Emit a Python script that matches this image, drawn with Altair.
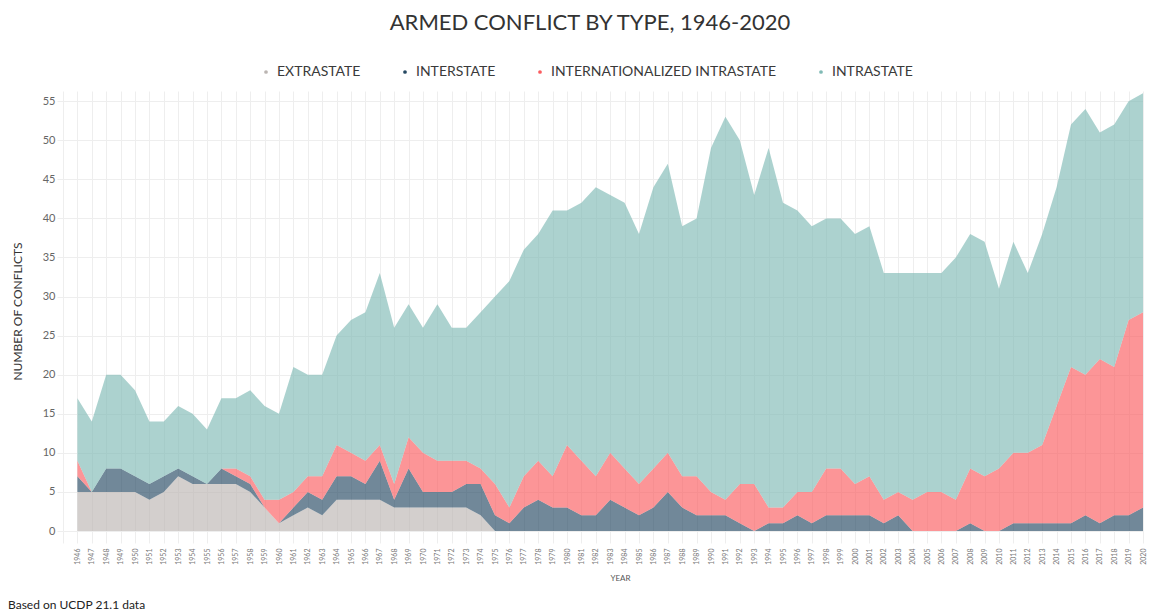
import altair as alt
import pandas as pd

years = list(range(1946, 2021))

type_names = ["EXTRASTATE", "INTERSTATE", "INTERNATIONALIZED INTRASTATE", "INTRASTATE"]
type_colors = ["#bbb5b2", "#254862", "#fb5c5f", "#80bab5"]

extrastate = [5, 5, 5, 5, 5, 4, 5, 7, 6, 6, 6, 6, 5, 3, 1, 2, 3, 2, 4, 4,
              4, 4, 3, 3, 3, 3, 3, 3, 2] + [0] * 46

interstate = [2, 0, 3, 3, 2, 2, 2, 1, 1, 0, 2, 1, 1, 0, 0, 1, 2, 2, 3, 3,
              2, 5, 1, 5, 2, 2, 2, 3, 4, 2, 1, 3, 4, 3, 3, 2, 2, 4, 3, 2,
              3, 5, 3, 2, 2, 2, 1, 0, 1, 1, 2, 1, 2, 2, 2, 2, 1, 2, 0, 0,
              0, 0, 1, 0, 0, 1, 1, 1, 1, 1, 2, 1, 2, 2, 3]

internationalized = [2, 0, 0, 0, 0, 0, 0, 0, 0, 0, 0, 1, 1, 1, 3, 2, 2, 3, 4, 3,
                     3, 2, 2, 4, 5, 4, 4, 3, 2, 4, 2, 4, 5, 4, 8, 7, 5, 6, 5, 4,
                     5, 5, 4, 5, 3, 2, 5, 6, 2, 2, 3, 4, 6, 6, 4, 5, 3, 3, 4, 5,
                     5, 4, 7, 7, 8, 9, 9, 10, 15, 20, 18, 21, 19, 25, 25]

intrastate = [8, 9, 12, 12, 11, 8, 7, 8, 8, 7, 9, 9, 11, 12, 11, 16, 13, 13, 14, 17,
              19, 22, 20, 17, 16, 20, 17, 17, 20, 24, 29, 29, 29, 34, 30, 33, 37, 33, 34, 32,
              36, 37, 32, 33, 44, 49, 44, 37, 46, 39, 36, 34, 32, 32, 32, 32, 29, 28, 29, 28,
              28, 31, 30, 30, 23, 27, 23, 27, 28, 31, 34, 29, 31, 28, 28]

y_ticks = list(range(0, 56, 5))
x_ticks = list(range(1945, 2021))

title_text = "ARMED CONFLICT BY TYPE, 1946-2020"
footnote = "Based on UCDP 21.1 data"

series = [extrastate, interstate, internationalized, intrastate]
rows = []
for i, yr in enumerate(years):
    for k, name in enumerate(type_names):
        rows.append({"year": yr, "type": name, "count": series[k][i], "idx": k})
df = pd.DataFrame(rows)

W, H = 1080, 440
FONT = "Lato"

areas = alt.Chart(df).mark_area(opacity=0.65, interpolate="linear").encode(
    x=alt.X(
        "year:Q",
        scale=alt.Scale(domain=[1945, 2020], nice=False, zero=False),
        axis=alt.Axis(
            values=x_ticks,
            format="d",
            labelExpr="datum.value == 1945 ? '' : datum.label",
            labelAngle=270,
            labelFontSize=7,
            labelColor="#777777",
            labelPadding=5,
            tickSize=12,
            tickColor="#eeeeee",
            domain=False,
            title="YEAR",
            titleFontSize=8,
            titleColor="#555555",
            titleFontWeight="normal",
            titlePadding=10,
            titleX=557,
            labelOverlap=False,
        ),
    ),
    y=alt.Y(
        "count:Q",
        stack="zero",
        scale=alt.Scale(domain=[0, 56.3], nice=False),
        axis=alt.Axis(
            values=y_ticks,
            labelFontSize=11,
            labelColor="#666666",
            labelPadding=2,
            tickSize=6,
            tickColor="#eeeeee",
            domain=False,
            title="NUMBER OF CONFLICTS",
            titleFontSize=12,
            titleColor="#333333",
            titleFontWeight="normal",
            titlePadding=18,
        ),
    ),
    color=alt.Color(
        "type:N",
        scale=alt.Scale(domain=type_names, range=type_colors),
        legend=alt.Legend(
            orient="none",
            legendX=196,
            legendY=-26,
            direction="horizontal",
            columns=4,
            title=None,
            symbolType="circle",
            symbolSize=14,
            symbolOpacity=1,
            symbolStrokeWidth=0,
            labelFontSize=14,
            labelColor="#3a3a3a",
            labelFont=FONT,
            labelOffset=4,
            labelLimit=400,
            columnPadding=37,
            padding=0,
        ),
    ),
    order=alt.Order("idx:Q", sort="ascending"),
)

heading = alt.Chart(pd.DataFrame({"t": [title_text]})).mark_text(
    align="center", baseline="middle", fontSize=22, font=FONT, color="#333333"
).encode(text="t:N", x=alt.value(527), y=alt.value(-68))

note = alt.Chart(pd.DataFrame({"t": [footnote]})).mark_text(
    align="left", baseline="middle", fontSize=12, font=FONT, color="#222222"
).encode(text="t:N", x=alt.value(-55), y=alt.value(H + 74))

chart = alt.layer(areas, heading, note).properties(
    width=W,
    height=H,
    autosize=alt.AutoSizeParams(type="none"),
    padding={"left": 55, "top": 83, "right": 4, "bottom": 82},
).configure_view(strokeWidth=0).configure_axis(
    gridColor="#eeeeee", gridWidth=1, labelFont=FONT, titleFont=FONT
)

chart.save("out.html", embed_options={"renderer": "svg", "actions": False})
